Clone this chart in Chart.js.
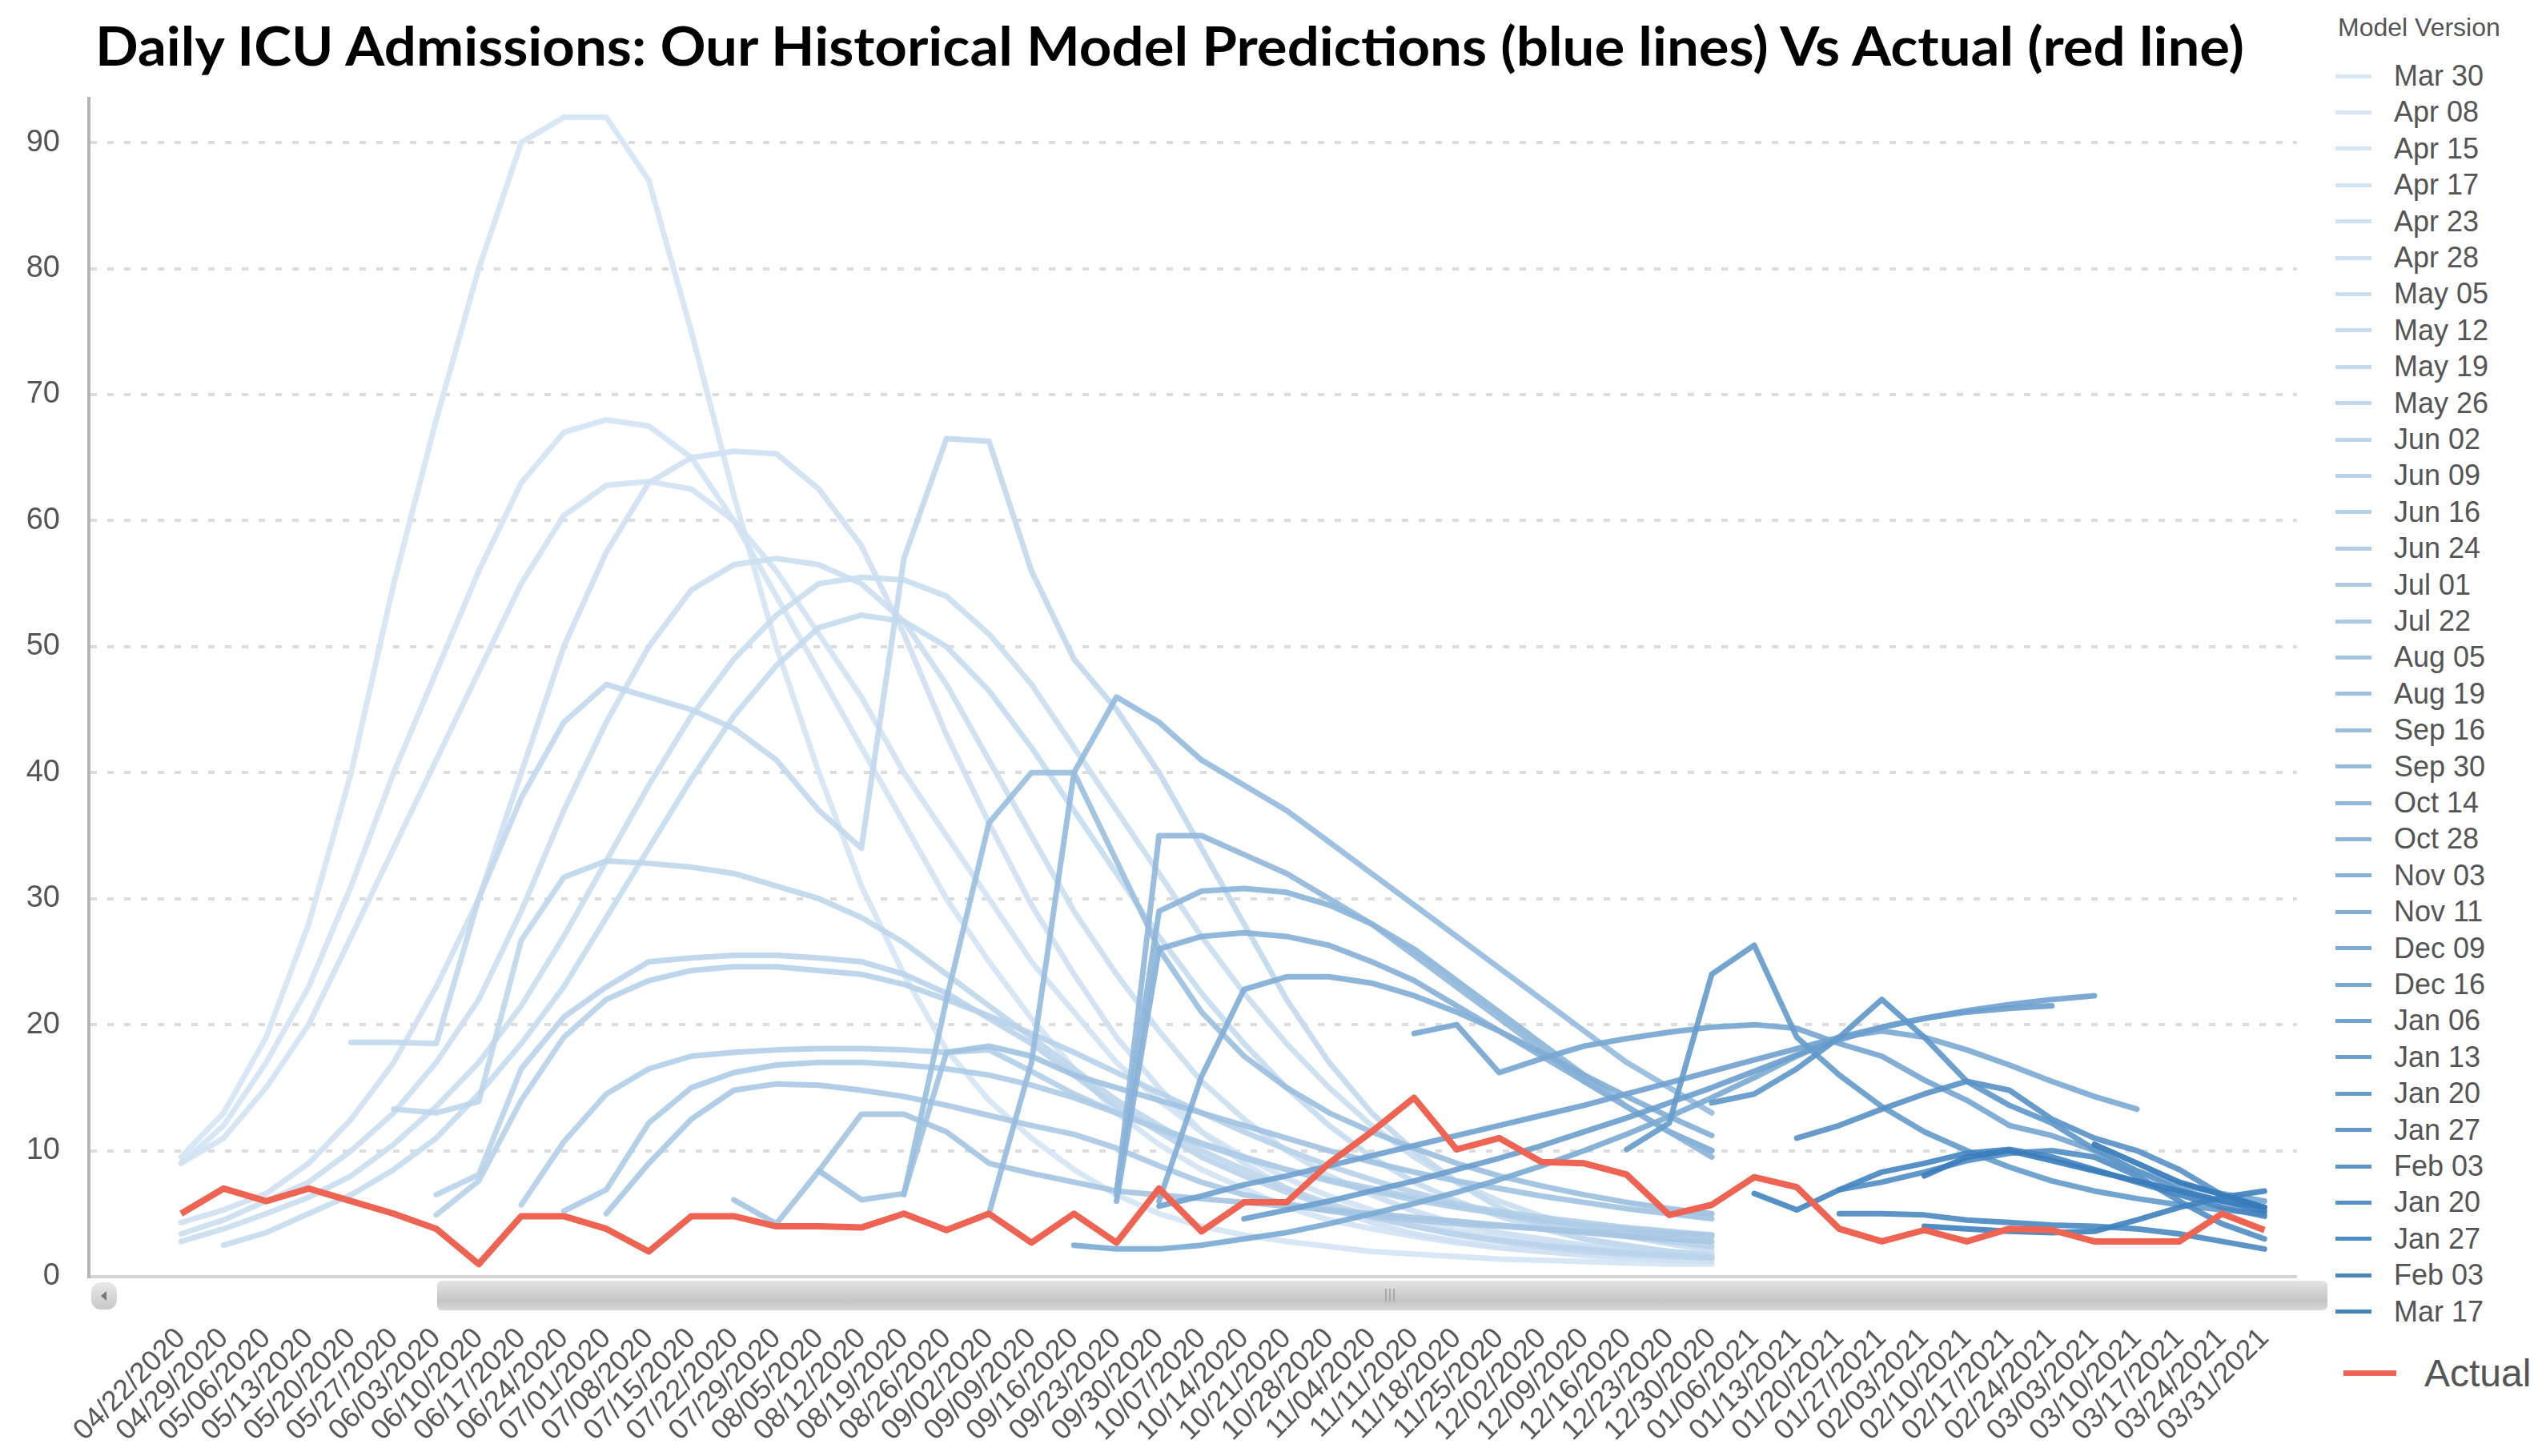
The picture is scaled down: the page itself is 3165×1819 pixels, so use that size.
<!DOCTYPE html>
<html>
<head>
<meta charset="utf-8">
<title>Daily ICU Admissions</title>
<script src="https://cdn.jsdelivr.net/npm/chart.js@4.4.1/dist/chart.umd.min.js"></script>
<style>
  html, body { margin: 0; padding: 0; background: #fff; }
  body { position: relative; width: 3165px; height: 1819px; overflow: hidden; font-family: 'Liberation Sans', Arial, sans-serif; }
  #chart { position: absolute; left: 0; top: 0; }
  #title { position: absolute; left: 119px; top: 23px; font-family: Lato, 'Liberation Sans', sans-serif; font-weight: 700; font-size: 67px; line-height: 67px; color: #000; white-space: nowrap; transform-origin: 0 0; }
  .legend-title { position: absolute; left: 2920px; top: 16px; font-size: 32px; line-height: 36px; color: #555; white-space: nowrap; }
  .legend-item { position: absolute; left: 2917px; height: 40px; display: flex; align-items: center; white-space: nowrap; color: #555; font-size: 36px; }
  .legend-item .swatch { width: 45px; height: 5px; margin-right: 28px; flex: none; }
  .legend-item.actual { left: 2927px; height: 60px; font-size: 48px; }
  .legend-item.actual .swatch { width: 66px; height: 7px; margin-right: 35px; }
  .sb-thumb { position: absolute; left: 546px; top: 1600px; width: 2361px; height: 37px; border-radius: 6px;
    background: linear-gradient(#e4e4e4, #cfcfcf 45%, #c4c4c4 70%, #d8d8d8); }
  .sb-grip { position: absolute; left: 1730px; top: 1610px; width: 14px; height: 16px;
    background: repeating-linear-gradient(90deg, #aaa 0 2px, transparent 2px 5px); }
  .sb-btn { position: absolute; left: 114px; top: 1602px; width: 32px; height: 34px; border-radius: 12px;
    background: linear-gradient(#e8e8e8, #c8c8c8); }
  .sb-btn::after { content: ''; position: absolute; left: 12px; top: 11px; border-style: solid;
    border-width: 6px 7px 6px 0; border-color: transparent #777 transparent transparent; }
</style>
</head>
<body>
<canvas id="chart" width="2915" height="1819"></canvas>
<div id="title">Daily ICU Admissions: Our Historical Model Predictions (blue lines) Vs Actual (red line)</div>
<div class="sb-btn"></div>
<div class="sb-thumb"></div>
<div class="sb-grip"></div>
<div id="legend"></div>
<script>
// weekly dates on the x axis
const dates = [
  '04/22/2020', '04/29/2020', '05/06/2020', '05/13/2020', '05/20/2020', '05/27/2020', '06/03/2020',
  '06/10/2020', '06/17/2020', '06/24/2020', '07/01/2020', '07/08/2020', '07/15/2020', '07/22/2020',
  '07/29/2020', '08/05/2020', '08/12/2020', '08/19/2020', '08/26/2020', '09/02/2020', '09/09/2020',
  '09/16/2020', '09/23/2020', '09/30/2020', '10/07/2020', '10/14/2020', '10/21/2020', '10/28/2020',
  '11/04/2020', '11/11/2020', '11/18/2020', '11/25/2020', '12/02/2020', '12/09/2020', '12/16/2020',
  '12/23/2020', '12/30/2020', '01/06/2021', '01/13/2021', '01/20/2021', '01/27/2021', '02/03/2021',
  '02/10/2021', '02/17/2021', '02/24/2021', '03/03/2021', '03/10/2021', '03/17/2021', '03/24/2021',
  '03/31/2021'
];
const yTicks = [0, 10, 20, 30, 40, 50, 60, 70, 80, 90];

// a model's forecast begins at a given date; earlier weeks stay empty
function pad(start, values) {
  return [...Array(dates.indexOf(start)).fill(null), ...values];
}

const actual = [5, 7, 6, 7, 6, 5, 3.8, 1, 4.8, 4.8, 3.8, 2, 4.8, 4.8, 4, 4, 3.9, 5, 3.7, 5,
  2.7, 5, 2.7, 7, 3.6, 5.9, 5.9, 9, 11.5, 14.2, 10.1, 11, 9.1, 9, 8.1, 4.9, 5.7, 7.9, 7.1, 3.8,
  2.8, 3.7, 2.8, 3.8, 3.7, 2.8, 2.8, 2.8, 5, 3.7];

const mar30 = [9.5, 13, 19, 28, 40, 55, 68, 80, 90, 92, 92, 87, 75, 62, 50, 40, 31, 24, 18, 14, 11, 8.5, 6.5, 5, 4, 3.3, 2.8, 2.4, 2, 1.8, 1.6, 1.4, 1.3, 1.2, 1.1, 1, 1];
const apr08 = [9, 12, 17, 23, 31, 40, 48, 56, 63, 67, 68, 67.5, 65, 60, 54, 48, 42, 36, 30, 25, 20.5, 16.5, 13, 10.5, 8.5, 7, 5.5, 4.5, 3.8, 3.2, 2.7, 2.3, 2, 1.8, 1.6, 1.5, 1.4];
const apr15 = [9, 11, 15, 20, 27, 34, 41, 48, 55, 60.4, 62.8, 63.1, 62.5, 60, 56, 51, 46, 40, 35, 30, 25, 21, 17, 14, 11.5, 9.5, 7.8, 6.4, 5.3, 4.4, 3.7, 3.1, 2.7, 2.3, 2, 1.8, 1.6];
const apr17 = [4.3, 5.3, 6.6, 9, 12.5, 17, 23, 30, 40, 50, 57.5, 63, 65, 65.5, 65.3, 62.5, 58, 51, 43, 36, 29.5, 24, 19, 15, 11.5, 9, 7, 5.5, 4.3, 3.4, 2.8, 2.3, 2, 1.7, 1.5, 1.3, 1.2];
const apr23 = [3.4, 4.5, 6, 7.5, 10, 13, 17, 22, 29, 37, 44, 50, 54.5, 56.5, 57, 56.5, 55, 52, 47, 41, 35, 29, 24, 19.5, 15.5, 12.5, 10, 8, 6.5, 5.2, 4.2, 3.5, 3, 2.5, 2.2, 2, 1.8];
const apr28 = [2.8, 3.8, 5, 6.3, 8, 10.5, 13.5, 17, 21.5, 27, 33, 39, 44.5, 49, 52.5, 55, 55.5, 55.3, 54, 51, 47, 42, 37, 32, 27, 22.5, 18.5, 15, 12, 9.5, 7.5, 6, 4.8, 3.9, 3.2, 2.6, 2.1];
const may05 = pad('04/29/2020', [2.5, 3.5, 5, 6.5, 8.5, 11, 14.5, 18.5, 23, 28.5, 34, 39.5, 44.5, 48.5, 51.5, 52.5, 52, 50, 46.5, 42, 37, 32, 27, 22.5, 18.5, 15, 12, 9.5, 7.5, 6, 4.8, 3.8, 3, 2.4, 2, 1.7]);
const may12 = pad('05/20/2020', [18.6, 18.6, 18.5, 30, 38, 44, 47, 46, 45, 43.5, 41, 37, 34, 57, 66.5, 66.3, 56, 49, 45, 40, 34, 28, 22, 17, 13, 10, 7.5, 5.5, 4, 3, 2.5, 2, 1.6]);
const may19 = pad('05/27/2020', [13.3, 13, 13.9, 26.7, 31.7, 33, 32.8, 32.5, 32, 31, 30, 28.5, 26.5, 24, 21.5, 19, 16.5, 14, 12, 10, 8.5, 7, 5.8, 4.8, 4, 3.3, 2.8, 2.4, 2, 1.8, 1.6, 1.5]);
const may26 = pad('06/03/2020', [6.5, 8.1, 16.5, 20.6, 23, 25, 25.3, 25.5, 25.5, 25.3, 25, 24, 22.5, 20.5, 18.5, 16, 13.5, 11.5, 9.5, 8, 6.7, 5.6, 4.7, 4, 3.4, 2.9, 2.5, 2.2, 1.9, 1.7, 1.5]);
const jun02 = pad('06/03/2020', [4.9, 7.6, 14, 19, 22, 23.5, 24.3, 24.6, 24.6, 24.3, 24, 23.2, 22, 20.7, 19.3, 17.8, 16.2, 14.6, 13, 11.5, 10.1, 8.8, 7.7, 6.7, 5.8, 5, 4.3, 3.7, 3.2, 2.8, 2.4]);
const jun09 = pad('06/17/2020', [5.7, 10.7, 14.5, 16.5, 17.5, 17.8, 18, 18.1, 18.1, 18, 17.8, 18, 16.3, 14.5, 13, 11.7, 10.5, 9.4, 8.5, 7.7, 7, 6.3, 5.7, 5.2, 4.7, 4.3, 3.9, 3.6, 3.3]);
const jun16 = pad('06/24/2020', [5.2, 6.9, 12.2, 15, 16.2, 16.8, 17, 17, 16.8, 16.5, 16, 15.2, 14.2, 13, 11.8, 10.6, 9.5, 8.5, 7.6, 6.8, 6.1, 5.5, 5, 4.5, 4.1, 3.8, 3.5, 3.2]);
const jun24 = pad('07/01/2020', [5, 9, 12.5, 14.8, 15.3, 15.2, 14.8, 14.3, 13.6, 12.8, 12, 11.3, 10.2, 8.8, 7.5, 6.5, 5.8, 5.2, 4.8, 4.5, 4.2, 4, 3.8, 3.6, 3.5, 3.4, 3.3]);
const jul01 = pad('07/22/2020', [6.1, 4.2, 8.4, 12.9, 12.9, 11.5, 9, 8.2, 7.5, 6.8, 6.5, 6.2, 5.9, 5.6, 5.3, 5, 4.7, 4.4, 4.1, 3.8, 3.5, 3.2, 3, 2.8]);
const jul22 = pad('08/05/2020', [8.4, 6.1, 6.6, 17.8, 18.3, 17.5, 16, 15, 14, 13, 12, 11, 10, 9.1, 8.3, 7.6, 7, 6.4, 5.9, 5.4, 5, 4.6]);
const aug05 = pad('08/19/2020', [6.5, 22, 36, 40, 40, 33, 26, 21, 17.5, 15, 13, 11.5, 10.2, 9, 8, 7.2, 6.5, 5.9, 5.4, 5]);
const aug19 = pad('09/02/2020', [5, 17, 40, 46, 44, 41, 39, 37, 34.5, 32, 29.5, 27, 24.5, 22, 19.5, 17, 15, 13]);
const sep16 = pad('09/23/2020', [6.5, 35, 35, 33.5, 32, 30, 28, 25.5, 23, 20.5, 18, 15.5, 13.5, 11.5, 10]);
const sep30 = pad('09/23/2020', [6.8, 29, 30.6, 30.8, 30.5, 29.5, 28, 26, 23.5, 21, 18.5, 16, 13.5, 11.5, 9.5]);
const oct14 = pad('09/23/2020', [6, 26, 27, 27.3, 27, 26.3, 25, 23.5, 21.5, 19.5, 17.5, 15.5, 13.5, 11.5, 10]);
const oct28 = pad('09/30/2020', [6, 15.9, 22.8, 23.8, 23.8, 23.3, 22.3, 21, 19.5, 17.8, 16, 14.3, 12.7, 11.2]);
const nov03 = pad('09/16/2020', [2.5, 2.2, 2.2, 2.5, 3, 3.5, 4.2, 5, 5.8, 6.7, 7.7, 8.8, 10, 11.3, 12.7, 14.2, 15.8, 17.5, 19, 19.5, 19, 18, 16.8, 15.5, 14.3, 13.3]);
const nov11 = pad('11/11/2020', [19.3, 20, 16.2, 17.3, 18.3, 18.9, 19.4, 19.8, 20, 19.7, 18.5, 17.5, 15.6, 14, 12, 11.2, 10, 8.4, 7.3, 6.6, 6]);
const dec09 = pad('09/30/2020', [5.6, 6.4, 7.3, 8, 8.8, 9.6, 10.4, 11.2, 12, 12.8, 13.6, 14.5, 15.4, 16.3, 17.2, 18.1, 19, 19.8, 20.5, 21.1, 21.6, 22, 22.3]);
const dec16 = pad('10/14/2020', [4.6, 5.3, 6, 6.8, 7.6, 8.5, 9.4, 10.4, 11.5, 12.6, 13.8, 15, 16.3, 17.6, 18.8, 19.8, 20.5, 21, 21.3, 21.5]);
const jan06 = pad('12/16/2020', [10.1, 12.2, 24, 26.3, 19, 16, 13.5, 11.5, 10, 8.7, 7.6, 6.8, 6.2, 5.7, 5.3, 5]);
const jan13 = pad('12/30/2020', [13.8, 14.5, 16.5, 19, 22, 19, 15.5, 13.6, 12.2, 10.1, 8.4, 6.9, 6, 5.5]);
const jan20 = pad('01/13/2021', [11, 12, 13.3, 14.5, 15.5, 14.8, 12.5, 11, 10, 8.5, 6.5, 5.5]);
const jan27 = pad('01/20/2021', [6.9, 7.5, 8.3, 9.2, 9.8, 10, 9.5, 8, 6, 4.2, 3]);
const feb03 = pad('01/20/2021', [5, 5, 4.9, 4.5, 4.3, 4.1, 4, 3.8, 3.4, 2.8, 2.2]);
const jan20b = pad('01/06/2021', [6.6, 5.3, 6.9, 8.3, 9, 9.8, 10.1, 9.5, 8.5, 7.5, 6.5, 5.5, 4.8]);
const jan27b = pad('02/03/2021', [4, 3.8, 3.6, 3.5, 3.6, 4.5, 5.5, 6.3, 6.8]);
const feb03b = pad('02/03/2021', [8, 9.5, 10, 9.2, 8.4, 7.6, 6.8, 6, 5.2]);
const mar17 = pad('03/03/2021', [10.5, 9, 7.5, 6.5, 5.5]);

const modelNames = ['Mar 30', 'Apr 08', 'Apr 15', 'Apr 17', 'Apr 23', 'Apr 28', 'May 05', 'May 12',
  'May 19', 'May 26', 'Jun 02', 'Jun 09', 'Jun 16', 'Jun 24', 'Jul 01', 'Jul 22', 'Aug 05', 'Aug 19',
  'Sep 16', 'Sep 30', 'Oct 14', 'Oct 28', 'Nov 03', 'Nov 11', 'Dec 09', 'Dec 16', 'Jan 06', 'Jan 13',
  'Jan 20', 'Jan 27', 'Feb 03', 'Jan 20', 'Jan 27', 'Feb 03', 'Mar 17'];
const modelSeries = [mar30, apr08, apr15, apr17, apr23, apr28, may05, may12, may19, may26, jun02,
  jun09, jun16, jun24, jul01, jul22, aug05, aug19, sep16, sep30, oct14, oct28, nov03, nov11, dec09,
  dec16, jan06, jan13, jan20, jan27, feb03, jan20b, jan27b, feb03b, mar17];

// light blue for the oldest model version, darker for newer ones
function modelColor(i, n) {
  const t = Math.pow(i / (n - 1), 1.4);
  const a = [212, 229, 244], b = [52, 122, 186];
  const c = a.map((v, k) => Math.round(v + (b[k] - v) * t));
  return `rgba(${c[0]}, ${c[1]}, ${c[2]}, 0.92)`;
}

Chart.defaults.font.family = "'Liberation Sans', Arial, sans-serif";

const datasets = modelSeries.map((values, i) => ({
  label: modelNames[i],
  data: values,
  borderColor: modelColor(i, modelSeries.length),
  borderWidth: 7,
  pointRadius: 0,
  tension: 0,
  borderJoinStyle: 'round',
  borderCapStyle: 'round',
  order: 100 - i
}));
datasets.push({
  label: 'Actual',
  data: actual,
  borderColor: '#ee6352',
  borderWidth: 8,
  pointRadius: 0,
  tension: 0,
  borderJoinStyle: 'round',
  order: 0
});

const chart = new Chart(document.getElementById('chart'), {
  type: 'line',
  data: {
    labels: dates.map((d, i) => i),
    datasets: datasets
  },
  options: {
    responsive: false,
    animation: false,
    layout: { padding: { top: 123, right: 8, left: 0, bottom: 0 } },
    plugins: {
      legend: { display: false },
      title: { display: false },
      tooltip: { enabled: false }
    },
    scales: {
      x: {
        type: 'linear',
        min: -2.17,
        max: 49.76,
        afterBuildTicks: scale => { scale.ticks = dates.map((d, i) => ({ value: i })); },
        afterFit: scale => { scale.height = 224; },
        grid: { display: false, drawTicks: false },
        border: { display: true, color: '#d4d4d4', width: 4 },
        ticks: {
          autoSkip: false,
          maxRotation: 45,
          minRotation: 45,
          padding: 56,
          color: '#5a5a5a',
          font: { size: 36 },
          callback: value => dates[value]
        }
      },
      y: {
        min: 0,
        max: 93.5,
        afterBuildTicks: scale => { scale.ticks = yTicks.map(v => ({ value: v })); },
        afterFit: scale => { scale.width = 111; },
        grid: { color: '#dcdcdc', lineWidth: 4, drawTicks: false },
        border: { display: true, color: '#b4b4b4', width: 4, dash: [8, 13] },
        ticks: {
          padding: 36,
          color: '#555',
          font: { size: 38 }
        }
      }
    }
  }
});

// legend on the right, built from the chart's datasets
const legend = document.getElementById('legend');
const head = document.createElement('div');
head.className = 'legend-title';
head.textContent = 'Model Version';
legend.appendChild(head);
chart.data.datasets.forEach((ds, i) => {
  const row = document.createElement('div');
  const isActual = ds.label === 'Actual' && i === chart.data.datasets.length - 1;
  row.className = isActual ? 'legend-item actual' : 'legend-item';
  const center = isActual ? 1715 : 95 + 45.4 * i;
  row.style.top = (center - (isActual ? 30 : 20)) + 'px';
  const sw = document.createElement('span');
  sw.className = 'swatch';
  sw.style.background = ds.borderColor;
  const txt = document.createElement('span');
  txt.textContent = ds.label;
  row.appendChild(sw);
  row.appendChild(txt);
  legend.appendChild(row);
});

// squeeze the bold title to the width it has in the original
const title = document.getElementById('title');
const w = title.getBoundingClientRect().width;
title.style.transform = 'scaleX(' + (2684 / w) + ')';
</script>
</body>
</html>
